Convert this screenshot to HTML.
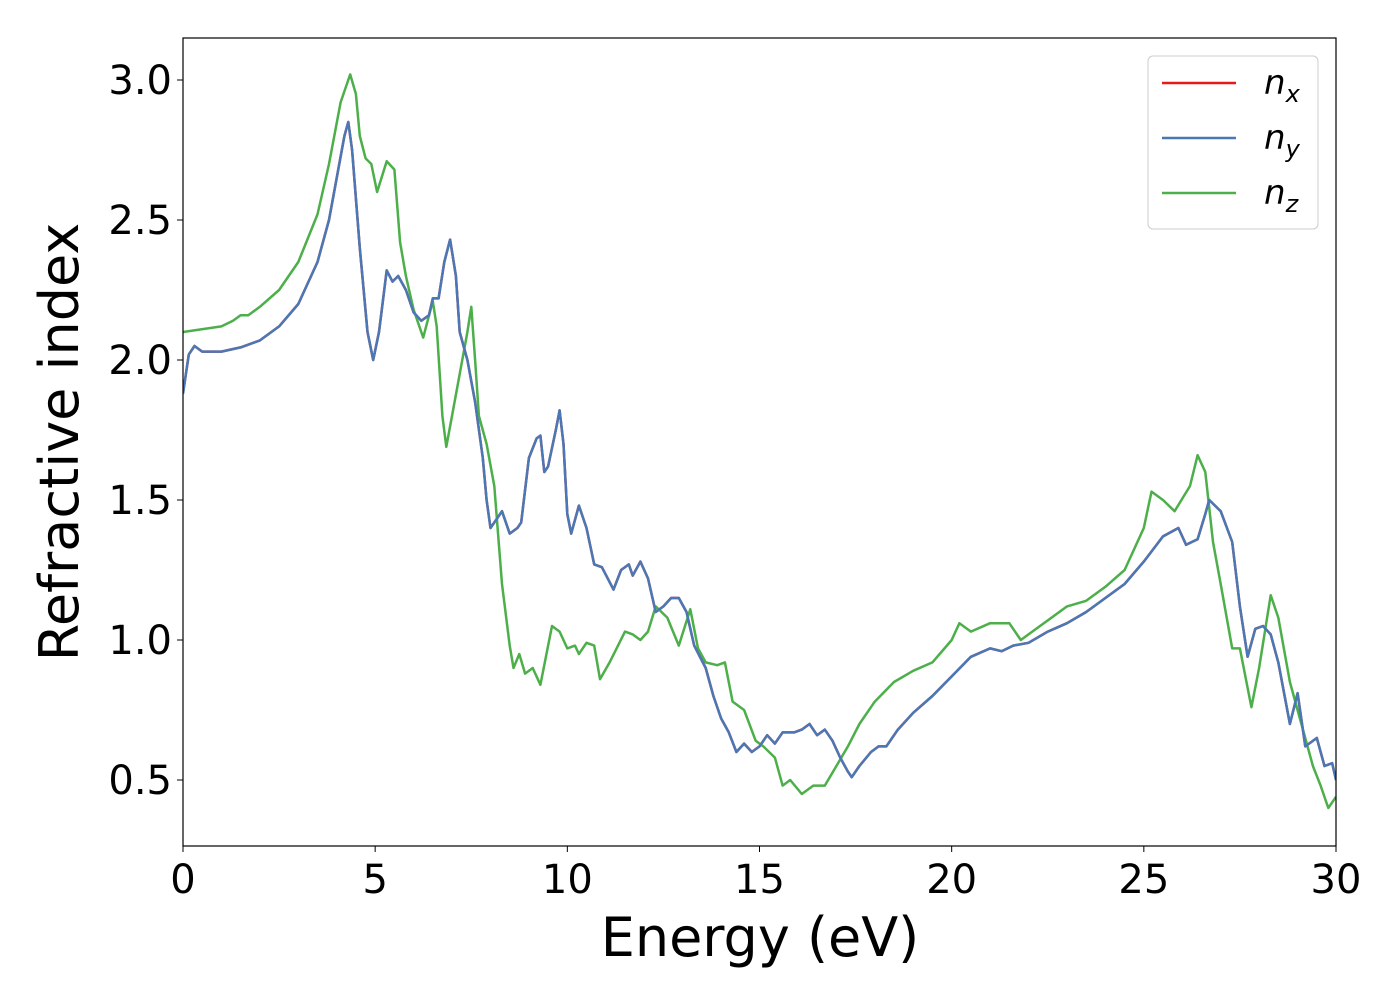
<!DOCTYPE html>
<html><head><meta charset="utf-8">
<style>
html,body{margin:0;padding:0;background:#fff;}
svg{display:block;font-family:"DejaVu Sans","Liberation Sans",sans-serif;}
</style></head>
<body>
<svg id="chart" width="1400" height="1000" viewBox="0 0 1400 1000" xmlns="http://www.w3.org/2000/svg">
<rect x="0" y="0" width="1400" height="1000" fill="#fff"/>
<g id="series"></g>
<rect x="183" y="38" width="1153" height="808" fill="none" stroke="#000" stroke-width="1.2"/>
<g id="xticks"></g>
<g id="yticks"></g>
<text x="760" y="956" font-size="54" text-anchor="middle">Energy (eV)</text>
<text transform="translate(78,442) rotate(-90)" font-size="54" text-anchor="middle">Refractive index</text>
<g>
<rect x="1148" y="56" width="170" height="173" rx="5" fill="#fff" stroke="#ccc" stroke-width="1"/>
<line x1="1162" y1="83" x2="1236" y2="83" stroke="#e41a1c" stroke-width="2.5"/>
<text x="1264" y="94" font-size="34" font-style="italic">n<tspan font-size="24" dy="8">x</tspan></text>
<line x1="1162" y1="138" x2="1236" y2="138" stroke="#4a78b5" stroke-width="2.5"/>
<text x="1264" y="149" font-size="34" font-style="italic">n<tspan font-size="24" dy="8">y</tspan></text>
<line x1="1162" y1="193" x2="1236" y2="193" stroke="#4daf4a" stroke-width="2.5"/>
<text x="1264" y="204" font-size="34" font-style="italic">n<tspan font-size="24" dy="8">z</tspan></text>
</g>
</svg>
<script>
const xTickValues=[0,5,10,15,20,25,30];
const yTickValues=[0.5,1.0,1.5,2.0,2.5,3.0];
const yTickLabels=["0.5","1.0","1.5","2.0","2.5","3.0"];
const energyXY=[0,0.15,0.3,0.5,1,1.5,2,2.5,3,3.5,3.8,4.0,4.2,4.3,4.4,4.6,4.8,4.95,5.1,5.3,5.45,5.6,5.8,6.0,6.2,6.4,6.5,6.65,6.8,6.95,7.1,7.2,7.4,7.6,7.8,7.9,8.0,8.2,8.3,8.5,8.7,8.8,9.0,9.2,9.3,9.4,9.5,9.7,9.8,9.9,10.0,10.1,10.3,10.5,10.7,10.9,11.2,11.4,11.6,11.7,11.9,12.1,12.3,12.5,12.7,12.9,13.1,13.3,13.6,13.8,14.0,14.2,14.4,14.6,14.8,15.0,15.2,15.4,15.6,15.9,16.1,16.3,16.5,16.7,16.9,17.1,17.3,17.4,17.6,17.9,18.1,18.3,18.6,19.0,19.5,20.0,20.5,21.0,21.3,21.6,22.0,22.5,23.0,23.5,24.0,24.5,25.0,25.5,25.9,26.1,26.4,26.6,26.7,27.0,27.3,27.5,27.7,27.9,28.1,28.3,28.5,28.8,29.0,29.2,29.5,29.7,29.9,30];
const nxyValues=[1.88,2.02,2.05,2.03,2.03,2.045,2.07,2.12,2.2,2.35,2.5,2.65,2.8,2.85,2.75,2.4,2.1,2.0,2.1,2.32,2.28,2.3,2.25,2.17,2.14,2.16,2.22,2.22,2.35,2.43,2.3,2.1,2.0,1.85,1.65,1.5,1.4,1.44,1.46,1.38,1.4,1.42,1.65,1.72,1.73,1.6,1.62,1.75,1.82,1.7,1.45,1.38,1.48,1.4,1.27,1.26,1.18,1.25,1.27,1.23,1.28,1.22,1.1,1.12,1.15,1.15,1.1,0.98,0.9,0.8,0.72,0.67,0.6,0.63,0.6,0.62,0.66,0.63,0.67,0.67,0.68,0.7,0.66,0.68,0.64,0.58,0.53,0.51,0.55,0.6,0.62,0.62,0.68,0.74,0.8,0.87,0.94,0.97,0.96,0.98,0.99,1.03,1.06,1.1,1.15,1.2,1.28,1.37,1.4,1.34,1.36,1.45,1.5,1.46,1.35,1.12,0.94,1.04,1.05,1.02,0.92,0.7,0.81,0.62,0.65,0.55,0.56,0.5];
const energyZ=[0,1,1.3,1.5,1.7,2,2.5,3,3.5,3.8,4.1,4.35,4.5,4.6,4.75,4.9,5.05,5.3,5.5,5.65,5.8,6.0,6.25,6.5,6.6,6.75,6.85,7.0,7.2,7.4,7.5,7.6,7.7,7.9,8.1,8.3,8.5,8.6,8.75,8.9,9.1,9.3,9.6,9.8,10.0,10.2,10.3,10.5,10.7,10.85,11.1,11.5,11.7,11.9,12.1,12.3,12.6,12.9,13.2,13.4,13.6,13.9,14.1,14.3,14.6,14.9,15.1,15.4,15.6,15.8,16.1,16.4,16.7,17.0,17.3,17.6,18.0,18.5,19.0,19.5,20.0,20.2,20.5,21.0,21.5,21.8,22.0,22.5,23.0,23.5,24.0,24.5,25.0,25.2,25.5,25.8,26.2,26.4,26.6,26.8,27.0,27.3,27.5,27.8,28.0,28.3,28.5,28.8,29.1,29.4,29.6,29.8,30];
const nzValues=[2.1,2.12,2.14,2.16,2.16,2.19,2.25,2.35,2.52,2.7,2.92,3.02,2.95,2.8,2.72,2.7,2.6,2.71,2.68,2.42,2.3,2.18,2.08,2.21,2.12,1.8,1.69,1.8,1.95,2.1,2.19,2.0,1.8,1.7,1.55,1.2,0.98,0.9,0.95,0.88,0.9,0.84,1.05,1.03,0.97,0.98,0.95,0.99,0.98,0.86,0.92,1.03,1.02,1.0,1.03,1.12,1.08,0.98,1.11,0.97,0.92,0.91,0.92,0.78,0.75,0.64,0.62,0.58,0.48,0.5,0.45,0.48,0.48,0.55,0.62,0.7,0.78,0.85,0.89,0.92,1.0,1.06,1.03,1.06,1.06,1.0,1.02,1.07,1.12,1.14,1.19,1.25,1.4,1.53,1.5,1.46,1.55,1.66,1.6,1.35,1.2,0.97,0.97,0.76,0.9,1.16,1.08,0.85,0.7,0.55,0.48,0.4,0.44];

const NS="http://www.w3.org/2000/svg";
function xs(v){return 183+v*(1153/30);}
function ys(v){return 80+(3.0-v)*280;}
function pathD(xa,ya){return xa.map((x,i)=>(i?"L":"M")+xs(x).toFixed(1)+","+ys(ya[i]).toFixed(1)).join("");}
const g=document.getElementById("series");
const clip=document.createElementNS(NS,"clipPath");clip.setAttribute("id","pc");
const cr=document.createElementNS(NS,"rect");cr.setAttribute("x",183);cr.setAttribute("y",38);cr.setAttribute("width",1153);cr.setAttribute("height",808);
clip.appendChild(cr);g.appendChild(clip);
function addLine(name,xa,ya,color){
 const p=document.createElementNS(NS,"path");
 
 
 p.setAttribute("d",pathD(xa,ya));p.setAttribute("fill","none");p.setAttribute("stroke",color);
 p.setAttribute("stroke-width","2.5");p.setAttribute("stroke-linejoin","round");p.setAttribute("clip-path","url(#pc)");
 g.appendChild(p);
}
addLine("series-nx",energyXY,nxyValues,"#e41a1c");
addLine("series-nz",energyZ,nzValues,"#4daf4a");
addLine("series-ny",energyXY,nxyValues,"#4a78b5");
const xt=document.getElementById("xticks");
xTickValues.forEach(v=>{
 const l=document.createElementNS(NS,"line");
 
 
 l.setAttribute("x1",xs(v));l.setAttribute("x2",xs(v));l.setAttribute("y1",846);l.setAttribute("y2",852);l.setAttribute("stroke","#000");
 xt.appendChild(l);
 const t=document.createElementNS(NS,"text");
 
 
 t.setAttribute("x",xs(v));t.setAttribute("y",893);t.setAttribute("font-size","40");t.setAttribute("text-anchor","middle");
 t.textContent=String(v);xt.appendChild(t);
});
const yt=document.getElementById("yticks");
yTickValues.forEach((v,i)=>{
 const l=document.createElementNS(NS,"line");
 
 
 l.setAttribute("x1",177);l.setAttribute("x2",183);l.setAttribute("y1",ys(v));l.setAttribute("y2",ys(v));l.setAttribute("stroke","#000");
 yt.appendChild(l);
 const t=document.createElementNS(NS,"text");
 
 
 t.setAttribute("x",172);t.setAttribute("y",ys(v)+14);t.setAttribute("font-size","40");t.setAttribute("text-anchor","end");
 t.textContent=yTickLabels[i];yt.appendChild(t);
});
</script>
</body></html>
